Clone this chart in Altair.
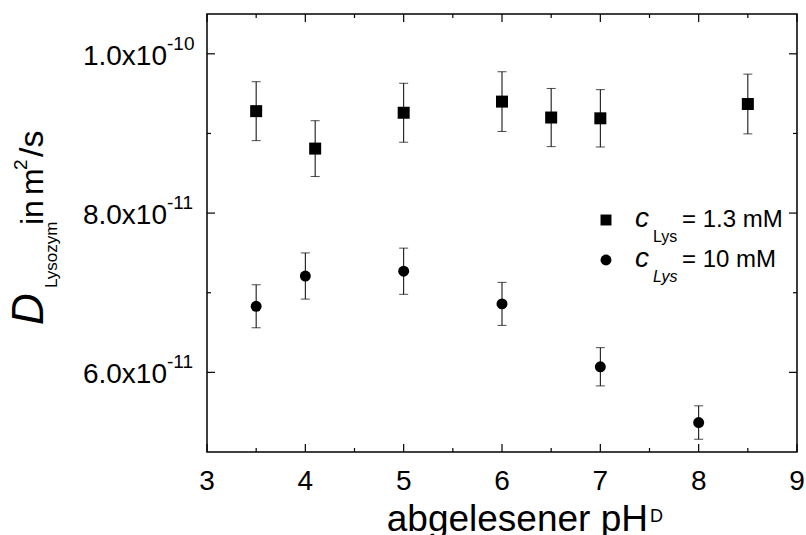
import altair as alt
import pandas as pd

# ---- data ----
ph_low = [3.5, 4.1, 5.0, 6.0, 6.5, 7.0, 8.5]
d_low = [9.28e-11, 8.81e-11, 9.26e-11, 9.40e-11, 9.20e-11, 9.19e-11, 9.37e-11]
err_low = [0.37e-11, 0.35e-11, 0.37e-11, 0.375e-11, 0.365e-11, 0.36e-11, 0.375e-11]

ph_high = [3.5, 4.0, 5.0, 6.0, 7.0, 8.0]
d_high = [6.83e-11, 7.21e-11, 7.27e-11, 6.86e-11, 6.07e-11, 5.37e-11]
err_high = [0.27e-11, 0.29e-11, 0.29e-11, 0.27e-11, 0.24e-11, 0.21e-11]

x_major = [3, 4, 5, 6, 7, 8, 9]
x_labels = ["3", "4", "5", "6", "7", "8", "9"]
x_minor = [3.5, 4.5, 5.5, 6.5, 7.5, 8.5]
y_major = [6e-11, 8e-11, 1e-10]
y_label_main = ["6.0x10", "8.0x10", "1.0x10"]
y_label_exp = ["-11", "-11", "-10"]
y_minor = [7e-11, 9e-11]

W, H = 590, 438
FONT = "Liberation Sans"

xs = alt.Scale(domain=[3, 9], nice=False, zero=False)
ys = alt.Scale(domain=[5e-11, 1.05e-10], nice=False, zero=False)

low = pd.DataFrame({"ph": ph_low, "d": d_low, "e": err_low})
low["lo"] = low["d"] - low["e"]
low["hi"] = low["d"] + low["e"]
high = pd.DataFrame({"ph": ph_high, "d": d_high, "e": err_high})
high["lo"] = high["d"] - high["e"]
high["hi"] = high["d"] + high["e"]

X = lambda f: alt.X(f, type="quantitative", scale=xs, axis=None)
Y = lambda f: alt.Y(f, type="quantitative", scale=ys, axis=None)


def errbars(df):
    base = alt.Chart(df)
    stem = base.mark_rule(color="black", strokeWidth=1).encode(x=X("ph"), y=Y("lo"), y2="hi")
    cap1 = base.mark_tick(color="black", orient="horizontal", size=9, thickness=1).encode(x=X("ph"), y=Y("lo"))
    cap2 = base.mark_tick(color="black", orient="horizontal", size=9, thickness=1).encode(x=X("ph"), y=Y("hi"))
    return stem + cap1 + cap2


sq = alt.Chart(low).mark_point(shape="square", filled=True, size=144, color="black", opacity=1).encode(
    x=X("ph"), y=Y("d"))
ci = alt.Chart(high).mark_point(shape="circle", filled=True, size=120, color="black", opacity=1).encode(
    x=X("ph"), y=Y("d"))

# ticks (inward, mirrored)
xmaj = pd.DataFrame({"v": x_major, "t": x_labels})
xmin = pd.DataFrame({"v": x_minor})
ymaj = pd.DataFrame({"v": y_major, "m": y_label_main, "e": y_label_exp})
ymin = pd.DataFrame({"v": y_minor})

tick_layers = []
for df, ln in ((xmaj, 8), (xmin, 4)):
    tick_layers.append(alt.Chart(df).mark_rule(color="black", strokeWidth=1.2).encode(
        x=X("v"), y=alt.value(H), y2=alt.value(H - ln)))
    tick_layers.append(alt.Chart(df).mark_rule(color="black", strokeWidth=1.2).encode(
        x=X("v"), y=alt.value(0), y2=alt.value(ln)))
for df, ln in ((ymaj, 8), (ymin, 4)):
    tick_layers.append(alt.Chart(df).mark_rule(color="black", strokeWidth=1.2).encode(
        y=Y("v"), x=alt.value(0), x2=alt.value(ln)))
    tick_layers.append(alt.Chart(df).mark_rule(color="black", strokeWidth=1.2).encode(
        y=Y("v"), x=alt.value(W), x2=alt.value(W - ln)))

xlab = alt.Chart(xmaj).mark_text(font=FONT, fontSize=28, color="black", baseline="alphabetic",
                                 align="center").encode(x=X("v"), y=alt.value(476), text="t:N")
ylab_m = alt.Chart(ymaj).mark_text(font=FONT, fontSize=28, color="black", baseline="alphabetic",
                                   align="right", dy=11).encode(y=Y("v"), x=alt.value(-40), text="m:N")
ylab_e = alt.Chart(ymaj).mark_text(font=FONT, fontSize=19, color="black", baseline="alphabetic",
                                   align="left", dy=-4).encode(y=Y("v"), x=alt.value(-40), text="e:N")


def txt(s, x, y, size, style="normal", angle=0, align="left"):
    kw = dict(font=FONT, fontSize=size, color="black", baseline="alphabetic", align=align,
              fontStyle=style)
    if angle:
        kw["angle"] = angle
    return alt.Chart(pd.DataFrame({"s": [s]})).mark_text(**kw).encode(
        x=alt.value(x), y=alt.value(y), text="s:N")


# axis titles
xt1 = txt("abgelesener pH", 441, 517, 37, align="right")
xt2 = txt("D", 443, 508, 18)
yt = [
    txt("D", -164, 311, 44, style="italic", angle=270),
    txt("Lysozym", -150, 274, 17, angle=270),
    txt("in", -164, 211, 32, angle=270),
    txt("m", -164, 181, 32, angle=270),
    txt("2", -180, 156, 19, angle=270),
    txt("/s", -164, 143, 34, angle=270),
]

# legend
leg_mk = [
    alt.Chart(pd.DataFrame({"k": [1]})).mark_point(shape="square", filled=True, size=120, color="black",
                                                    opacity=1).encode(x=alt.value(399), y=alt.value(206)),
    alt.Chart(pd.DataFrame({"k": [1]})).mark_point(shape="circle", filled=True, size=120, color="black",
                                                    opacity=1).encode(x=alt.value(399), y=alt.value(246)),
]
leg_txt = [
    txt("c", 428, 213, 28, style="italic"),
    txt("Lys", 446, 228, 16),
    txt("= 1.3 mM", 475, 213, 24),
    txt("c", 428, 253, 28, style="italic"),
    txt("Lys", 446, 268, 16, style="italic"),
    txt("= 10 mM", 475, 253, 24),
]

chart = alt.layer(
    *tick_layers, errbars(low), errbars(high), sq, ci, xlab, ylab_m, ylab_e, xt1, xt2, *yt,
    *leg_mk, *leg_txt
).properties(
    width=W, height=H,
    padding={"left": 207, "top": 14, "right": 9, "bottom": 83},
    autosize=alt.AutoSizeParams(type="none"),
    background="white",
).configure_view(stroke="black", strokeWidth=1.5)

chart.save("out.html", embed_options={"renderer": "svg", "actions": False})
